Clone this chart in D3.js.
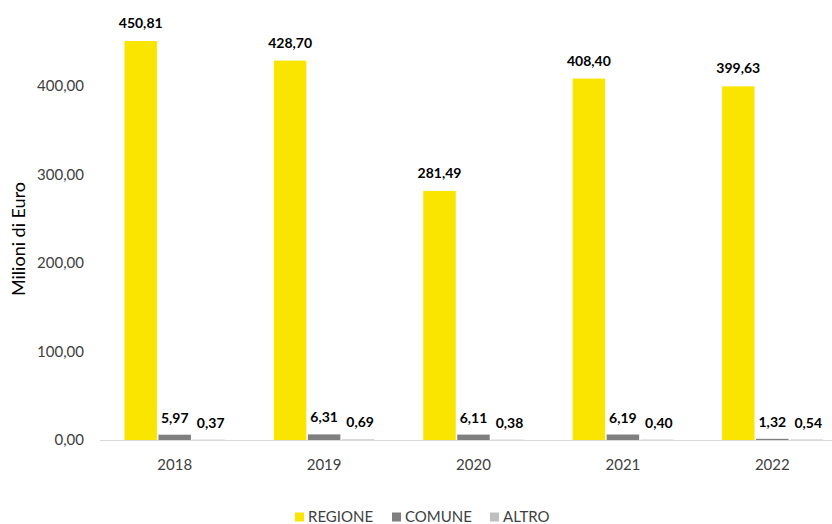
<!DOCTYPE html>
<html>
<head>
<meta charset="utf-8">
<script src="https://cdn.jsdelivr.net/npm/d3@7"></script>
<style>
  body { margin: 0; background: #fff; }
  svg { font-family: Lato, "Open Sans", sans-serif; }
</style>
</head>
<body>
<div id="chart"></div>
<script>
// Data
var years = ["2018", "2019", "2020", "2021", "2022"];
var seriesNames = ["REGIONE", "COMUNE", "ALTRO"];
var regione = [450.81, 428.70, 281.49, 408.40, 399.63];
var comune = [5.97, 6.31, 6.11, 6.19, 1.32];
var altro = [0.37, 0.69, 0.38, 0.40, 0.54];
var yTicks = [0, 100, 200, 300, 400];
var colors = ["#FAE500", "#7F7F7F", "#BFBFBF"];

var width = 832, height = 524;
var margin = {top: 0, right: -15, bottom: 84, left: 100};

var svg = d3.select("#chart")
  .append("svg")
    .attr("width", width)
    .attr("height", height);

// Build table from the arrays
var table = years.map(function(y, i) {
  return {year: y, values: [regione[i], comune[i], altro[i]]};
});

var x = d3.scaleBand()
  .domain(years)
  .range([margin.left, width - margin.right])
  .paddingInner(0)
  .paddingOuter(0);

var y = d3.scaleLinear()
  .domain([0, 400])
  .range([440, 86]);

var barW = 32.5, step = 34;
var fmt = function(d) { return d3.format(".2f")(d).replace(".", ","); };

// Y axis tick labels
svg.append("g")
  .selectAll("text")
  .data(yTicks)
  .join("text")
    .attr("x", 84)
    .attr("y", function(d) { return y(d); })
    .attr("dy", "0.35em")
    .attr("text-anchor", "end")
    .attr("fill", "#404040")
    .style("font-size", "15px")
    .text(fmt);

// Y axis title
svg.append("text")
  .attr("transform", "translate(25,239) rotate(-90)")
  .attr("text-anchor", "middle")
  .attr("fill", "#000")
  .style("font-size", "18px")
  .text("Milioni di Euro");

// Bars
var groups = svg.append("g")
  .selectAll("g")
  .data(table)
  .join("g")
    .attr("transform", function(d) {
      return "translate(" + (x(d.year) + x.bandwidth() / 2) + ",0)";
    });

groups.selectAll("rect")
  .data(function(d) { return d.values; })
  .join("rect")
    .attr("x", function(d, i) { return (i - 1) * step - barW / 2; })
    .attr("y", function(d) { return y(d); })
    .attr("width", barW)
    .attr("height", function(d) { return 440 - y(d); })
    .attr("fill", function(d, i) { return colors[i]; });

// Value labels
groups.selectAll("text")
  .data(function(d) { return d.values; })
  .join("text")
    .attr("x", function(d, i) { return (i - 1) * step + (i == 2 ? 2 : 0); })
    .attr("y", function(d, i) { return y(d) - (i == 0 ? 13 : 12); })
    .attr("text-anchor", "middle")
    .attr("font-weight", "bold")
    .attr("fill", "#000")
    .style("font-size", "14px")
    .text(fmt);

// Baseline
svg.append("line")
  .attr("x1", margin.left)
  .attr("x2", width)
  .attr("y1", 440.5)
  .attr("y2", 440.5)
  .attr("stroke", "#D9D9D9")
  .attr("stroke-width", 1);

// X axis labels
svg.append("g")
  .selectAll("text")
  .data(years)
  .join("text")
    .attr("x", function(d) { return x(d) + x.bandwidth() / 2; })
    .attr("y", 465)
    .attr("dy", "0.35em")
    .attr("text-anchor", "middle")
    .attr("fill", "#404040")
    .style("font-size", "15px")
    .text(function(d) { return d; });

// Legend
var legendX = [295, 392, 490];
var legend = svg.append("g")
  .selectAll("g")
  .data(seriesNames)
  .join("g")
    .attr("transform", function(d, i) { return "translate(" + legendX[i] + ",517)"; });

legend.append("rect")
  .attr("x", 0)
  .attr("y", -4.5)
  .attr("width", 9)
  .attr("height", 9)
  .attr("fill", function(d, i) { return colors[i]; });

legend.append("text")
  .attr("x", 13)
  .attr("y", 0)
  .attr("dy", "0.35em")
  .attr("fill", "#404040")
  .style("font-size", "15px")
  .text(function(d) { return d; });
</script>
</body>
</html>
